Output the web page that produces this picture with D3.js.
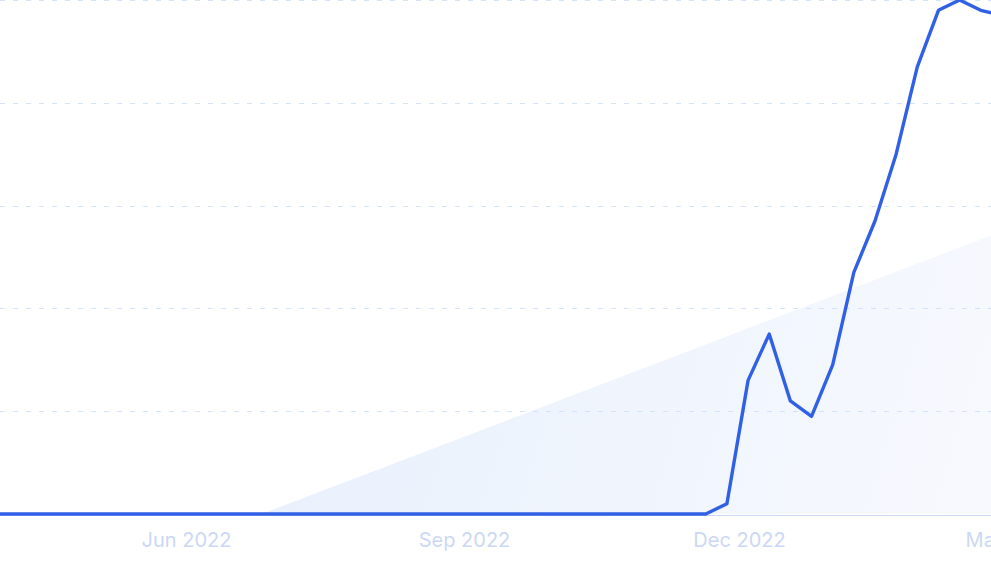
<!DOCTYPE html>
<html>
<head>
<meta charset="utf-8">
<script src="https://cdn.jsdelivr.net/npm/d3@7/dist/d3.min.js"></script>
<style>
  html, body { margin: 0; padding: 0; background: #ffffff; overflow: hidden; }
  svg { display: block; }
</style>
</head>
<body>
<svg id="chart" width="991" height="564"></svg>
<script>
// ---- data ----
const weekStart = "2022-03-27";
const weeklyValues = [
  0,0,0,0,0,0,0,0,0,0,            // Mar 27 - May 29
  0,0,0,0,0,0,0,0,0,0,            // Jun 5 - Aug 7
  0,0,0,0,0,0,0,0,0,0,            // Aug 14 - Oct 16
  0,0,0,0,0,                      // Oct 23 - Nov 20
  2,26,35,22,19,29,47,57,70,87,98,100,98,97  // Nov 27 - Feb 26
];
const trendDates = ["2022-06-26", "2023-02-26"];
const trendValues = [0, 55];
const tickLabels = ["Jun 2022", "Sep 2022", "Dec 2022", "Mar 2023"];
const tickDates = ["2022-06-01", "2022-09-01", "2022-12-01", "2023-03-01"];
const gridValues = [20, 40, 60, 80, 100];

// ---- build ----
const parse = d3.timeParse("%Y-%m-%d");
const start = parse(weekStart);
const series = weeklyValues.map((v, i) => ({ date: d3.timeDay.offset(start, i * 7), value: v }));
const trend = trendDates.map((d, i) => ({ date: parse(d), value: trendValues[i] }));

const W = 991, H = 564;
const svg = d3.select("#chart");

const x = d3.scaleTime()
  .domain([parse("2022-06-01"), parse("2022-12-01")])
  .range([186, 739]);
const y = d3.scaleLinear().domain([0, 100]).range([514, 0]);

const defs = svg.append("defs");
const grad = defs.append("linearGradient")
  .attr("id", "trendGrad")
  .attr("gradientUnits", "userSpaceOnUse")
  .attr("x1", 260).attr("y1", 300).attr("x2", 991).attr("y2", 520);
grad.append("stop").attr("offset", "0%").attr("stop-color", "#e8f0fc");
grad.append("stop").attr("offset", "100%").attr("stop-color", "#f7f9fe");

const clip = defs.append("clipPath").attr("id", "plotClip");
clip.append("rect").attr("x", -2).attr("y", -2).attr("width", W + 4).attr("height", 520);

// trend area
const area = d3.area()
  .x(d => x(d.date))
  .y0(y(0))
  .y1(d => y(d.value));
svg.append("path")
  .datum(trend)
  .attr("d", area)
  .attr("fill", "url(#trendGrad)");

// gridlines
svg.append("g")
  .selectAll("line")
  .data(gridValues)
  .join("line")
  .attr("x1", 0).attr("x2", W)
  .attr("y1", d => Math.round(y(d)) + 0.5)
  .attr("y2", d => Math.round(y(d)) + 0.5)
  .attr("stroke", "#d2e3fb")
  .attr("stroke-width", 1)
  .attr("stroke-dasharray", "5 8");

// x axis
const xAxis = d3.axisBottom(x)
  .tickValues(tickDates.map(parse))
  .tickFormat((d, i) => tickLabels[i])
  .tickSize(0)
  .tickPadding(17);
const gx = svg.append("g")
  .attr("transform", "translate(0,515.5)")
  .call(xAxis);
gx.select(".domain").remove();
gx.append("line")
  .attr("x1", 0).attr("x2", W)
  .attr("y1", 0).attr("y2", 0)
  .attr("stroke", "#cad9f6")
  .attr("stroke-width", 1);
gx.selectAll(".tick text")
  .attr("fill", "#cbd8f5")
  .attr("font-family", "Inter, 'Noto Sans', sans-serif")
  .attr("font-size", 20);

// line
const line = d3.line()
  .x(d => x(d.date))
  .y(d => y(d.value));
svg.append("path")
  .datum(series)
  .attr("clip-path", "url(#plotClip)")
  .attr("d", line)
  .attr("fill", "none")
  .attr("stroke", "#2f60e6")
  .attr("stroke-width", 3.4)
  .attr("stroke-linejoin", "round")
  .attr("stroke-linecap", "round");
</script>
</body>
</html>
